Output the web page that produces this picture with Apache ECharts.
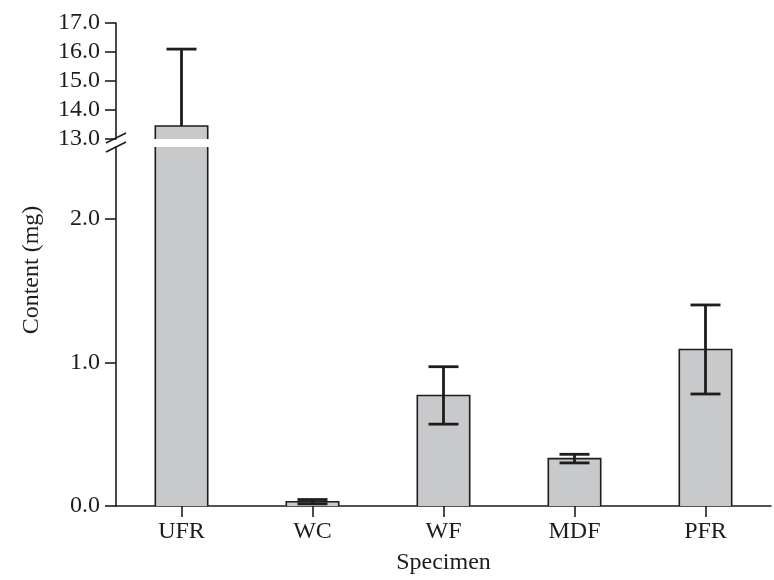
<!DOCTYPE html>
<html><head><meta charset="utf-8">
<script src="https://cdn.jsdelivr.net/npm/echarts@6/dist/echarts.min.js"></script>
<style>html,body{margin:0;padding:0;background:#fff;overflow:hidden}#c{width:774px;height:580px}</style>
</head><body><div id="c"></div>
<script>
// ---- data ----
const categories = ['UFR', 'WC', 'WF', 'MDF', 'PFR'];
const means = [13.45, 0.03, 0.77, 0.33, 1.09];
const errors = [2.65, 0.015, 0.20, 0.03, 0.31];
const upperTicks = [13, 14, 15, 16, 17];
const lowerTicks = [0, 1, 2];
const xTitle = 'Specimen';
const yTitle = 'Content (mg)';

// ---- style ----
const FONT = '"Liberation Serif","Times New Roman",serif';
const INK = '#1e1c1d';
const BAR = '#c8c9cb';
const L = 116, R = 3;
const UP_TOP = 23, UP_H = 116;
const LO_TOP = 147, LO_H = 364;
const CAP = 30;

const barData = categories.map((c, i) => [i, means[i]]);
const errData = categories.map((c, i) => [i, means[i], errors[i]]);

function barRender(params, api) {
  const cs = params.coordSys;
  const i = api.value(0), v = api.value(1);
  const p = api.coord([i, v]);
  const bottom = cs.y + cs.height;
  if (p[1] > bottom) return null;
  const clipped = p[1] < cs.y;
  const top = Math.max(p[1], cs.y);
  const w = api.size([1, 0])[0] * 0.4;
  const l = p[0] - w / 2, r = p[0] + w / 2;
  const children = [{
    type: 'rect', shape: { x: l, y: top, width: w, height: bottom - top },
    style: { fill: BAR }
  }];
  const st = { stroke: INK, lineWidth: 1.6, fill: null };
  if (clipped) {
    children.push({ type: 'line', shape: { x1: l, y1: top, x2: l, y2: bottom }, style: st });
    children.push({ type: 'line', shape: { x1: r, y1: top, x2: r, y2: bottom }, style: st });
  } else {
    children.push({ type: 'polyline', shape: { points: [[l, bottom], [l, top], [r, top], [r, bottom]] }, style: st });
  }
  return { type: 'group', children };
}

function errRender(params, api) {
  const cs = params.coordSys;
  const i = api.value(0), v = api.value(1), e = api.value(2);
  const top = cs.y, bottom = cs.y + cs.height;
  const yHi = api.coord([i, v + e])[1];
  const yLo = api.coord([i, v - e])[1];
  const x = api.coord([i, v])[0];
  if (yHi > bottom || yLo < top) return null;
  const st = { stroke: INK, lineWidth: 2.8, fill: null };
  const children = [{
    type: 'line',
    shape: { x1: x, y1: Math.max(yHi, top), x2: x, y2: Math.min(yLo, bottom) }, style: st
  }];
  if (yHi >= top) children.push({ type: 'line', shape: { x1: x - CAP / 2, y1: yHi, x2: x + CAP / 2, y2: yHi }, style: st });
  if (yLo <= bottom) children.push({ type: 'line', shape: { x1: x - CAP / 2, y1: yLo, x2: x + CAP / 2, y2: yLo }, style: st });
  return { type: 'group', children };
}

const labelStyle = { color: INK, fontFamily: FONT, fontSize: 24 };
const yCommon = {
  type: 'value',
  axisLine: { show: true, lineStyle: { color: INK, width: 1.6 } },
  axisTick: { show: true, inside: false, length: 11, lineStyle: { color: INK, width: 1.6 } },
  splitLine: { show: false },
  axisLabel: Object.assign({ margin: 16, formatter: v => v.toFixed(1) }, labelStyle)
};

const upBottomY = UP_TOP + UP_H;
const loTopY = LO_TOP;
const slash = (y) => ({
  type: 'line', z: 10,
  shape: { x1: L - 10, y1: y + 5, x2: L + 10, y2: y - 5 },
  style: { stroke: INK, lineWidth: 1.6 }
});

const option = {
  backgroundColor: '#fff',
  animation: false,
  grid: [
    { left: L, right: R, top: UP_TOP, height: UP_H },
    { left: L, right: R, top: LO_TOP, height: LO_H }
  ],
  xAxis: [
    { type: 'category', gridIndex: 0, data: categories, show: false },
    {
      type: 'category', gridIndex: 1, data: categories,
      axisLine: { show: true, lineStyle: { color: INK, width: 1.6 } },
      axisTick: { show: true, alignWithLabel: true, length: 11, lineStyle: { color: INK, width: 1.6 } },
      axisLabel: Object.assign({ margin: 14 }, labelStyle),
      name: xTitle, nameLocation: 'middle', nameGap: 45,
      nameTextStyle: labelStyle
    }
  ],
  yAxis: [
    Object.assign({}, yCommon, {
      gridIndex: 0, min: upperTicks[0], max: upperTicks[upperTicks.length - 1], interval: 1
    }),
    Object.assign({}, yCommon, {
      gridIndex: 1, min: 0, max: 2.5, interval: 1,
      axisTick: Object.assign({}, yCommon.axisTick, { customValues: lowerTicks }),
      axisLabel: Object.assign({}, yCommon.axisLabel, { customValues: lowerTicks })
    })
  ],
  series: [
    { type: 'custom', xAxisIndex: 0, yAxisIndex: 0, renderItem: errRender, data: errData, z: 1 },
    { type: 'custom', xAxisIndex: 0, yAxisIndex: 0, renderItem: barRender, data: barData, z: 2 },
    { type: 'custom', xAxisIndex: 1, yAxisIndex: 1, renderItem: barRender, data: barData, z: 2 },
    { type: 'custom', xAxisIndex: 1, yAxisIndex: 1, renderItem: errRender, data: errData, z: 3 }
  ],
  graphic: [
    slash(upBottomY - 1),
    slash(loTopY),
    {
      type: 'text', x: 32, y: 270, rotation: Math.PI / 2,
      style: {
        text: yTitle, fill: INK, font: '24px ' + FONT,
        align: 'center', verticalAlign: 'middle'
      }
    }
  ]
};

const chart = echarts.init(document.getElementById('c'), null, { renderer: 'canvas' });
chart.setOption(option);
</script>
</body></html>
